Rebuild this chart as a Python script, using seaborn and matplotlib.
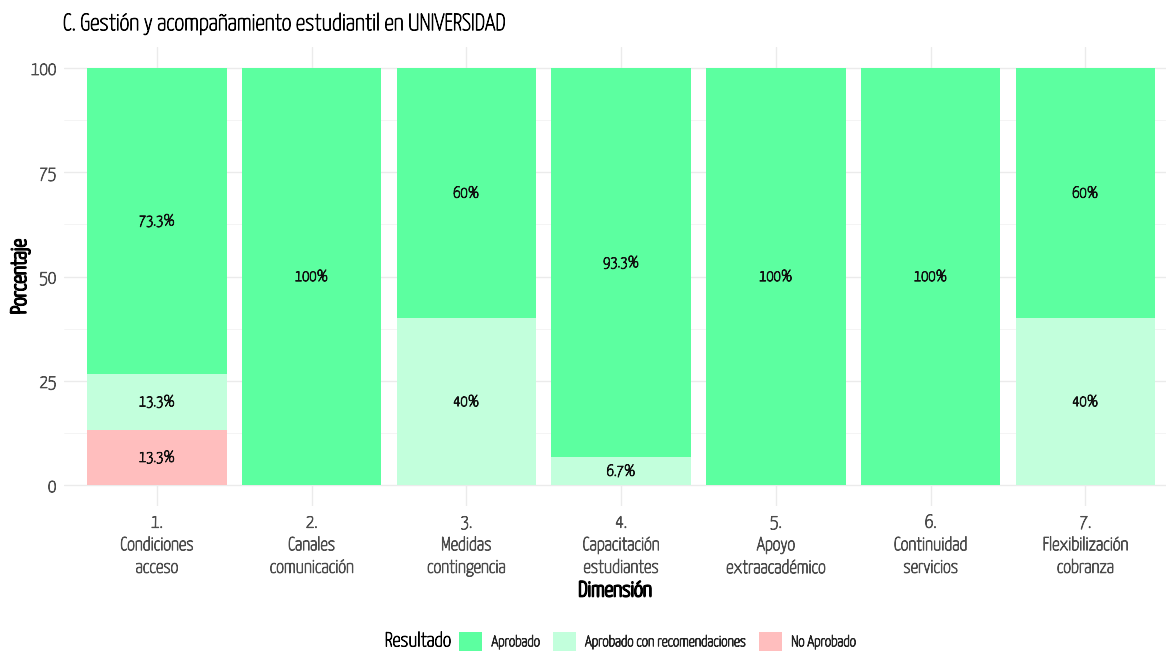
import matplotlib
matplotlib.use("Agg")
import matplotlib.pyplot as plt
import matplotlib.patheffects as pe
from matplotlib.text import Text
from matplotlib.patches import Patch
import seaborn as sns
import pandas as pd

# ---- data ----
categories = ["1.\nCondiciones\nacceso", "2.\nCanales\ncomunicación", "3.\nMedidas\ncontingencia",
              "4.\nCapacitación\nestudiantes", "5.\nApoyo\nextraacadémico", "6.\nContinuidad\nservicios",
              "7.\nFlexibilización\ncobranza"]
no_aprobado = [13.33, 0, 0, 0, 0, 0, 0]
aprobado_rec = [13.33, 0, 40, 6.67, 0, 0, 40]
aprobado = [73.33, 100, 60, 93.33, 100, 100, 60]
results = ["Aprobado", "Aprobado con recomendaciones", "No Aprobado"]
colors = {"Aprobado": "#5CFFA0", "Aprobado con recomendaciones": "#C2FFDC", "No Aprobado": "#FFBEBE"}
yticks = [0, 25, 50, 75, 100]

sns.set_theme(style="whitegrid")
plt.rcParams["font.family"] = ["Yanone Kaffeesatz", "DejaVu Sans"]

df = pd.DataFrame({"Dimension": categories, "No Aprobado": no_aprobado,
                   "Aprobado con recomendaciones": aprobado_rec, "Aprobado": aprobado})
df["cum_no"] = df["No Aprobado"]
df["cum_rec"] = df["cum_no"] + df["Aprobado con recomendaciones"]
df["cum_ap"] = df["cum_rec"] + df["Aprobado"]

fig = plt.figure(figsize=(11.66, 6.51), dpi=100)
ax = fig.add_axes([0.0549, 0.2227, 0.945, 0.705])

for col, res in [("cum_ap", "Aprobado"), ("cum_rec", "Aprobado con recomendaciones"), ("cum_no", "No Aprobado")]:
    sns.barplot(data=df, x="Dimension", y=col, color=colors[res], saturation=1, width=0.9,
                ax=ax, order=categories, errorbar=None, zorder=2, linewidth=0, edgecolor="none")

# segment labels
for i in range(len(categories)):
    base = 0
    for vals in [no_aprobado, aprobado_rec, aprobado]:
        v = vals[i]
        if v > 0:
            ax.text(i, base + v / 2, "{:g}%".format(round(v, 1)), ha="center", va="center",
                    fontsize=11.5, color="#111111", zorder=3)
        base += v

ax.set_xlim(-0.6, 6.52)
ax.set_ylim(-5, 105)
ax.set_yticks(yticks)
ax.set_yticks([12.5, 37.5, 62.5, 87.5], minor=True)
ax.grid(True, which="major", color="#EBEBEB", linewidth=1.0, zorder=0)
ax.grid(True, which="minor", axis="y", color="#F3F3F3", linewidth=0.6, zorder=0)
ax.set_axisbelow(True)
for s in ax.spines.values():
    s.set_visible(False)
ax.tick_params(axis="both", which="major", length=3.5, color="#E5E5E5", labelsize=13.5,
               labelcolor="#4D4D4D", pad=2)
ax.tick_params(axis="y", which="minor", length=0)
for t in ax.get_xticklabels():
    t.set_linespacing(1.35)
ax.set_xlabel("Dimensión", fontsize=15.5, fontweight="bold", color="black")
ax.set_ylabel("Porcentaje", fontsize=15.5, fontweight="bold", color="black")
ax.xaxis.set_label_coords(0.5, -0.162)
ax.yaxis.set_label_coords(-0.031, 0.5)

fig.text(0.054, 0.963, "C. Gestión y acompañamiento estudiantil en UNIVERSIDAD", fontsize=17,
         ha="left", va="center", color="black")

fig.text(0.330, 0.015, "Resultado", fontsize=14.5, ha="left", va="center", color="black")
handles = [Patch(facecolor=colors[r], edgecolor="none") for r in results]
leg = fig.legend(handles, results, loc="center left", bbox_to_anchor=(0.394, 0.015), ncol=3, frameon=False,
                 fontsize=11, handlelength=1.5, handleheight=1.5, handletextpad=0.6, columnspacing=0.85,
                 borderaxespad=0, borderpad=0)

# thicken the light variable font to regular / bold appearance
for t in fig.findobj(Text):
    if not t.get_text():
        continue
    w = 1.4 if t.get_fontweight() in ("bold", 700) else 0.65
    t.set_path_effects([pe.withStroke(linewidth=w, foreground=t.get_color())])
for t in ax.get_xticklabels() + ax.get_yticklabels():
    t.set_path_effects([pe.withStroke(linewidth=0.65, foreground="#4D4D4D")])

fig.savefig("out.png", dpi=100)
